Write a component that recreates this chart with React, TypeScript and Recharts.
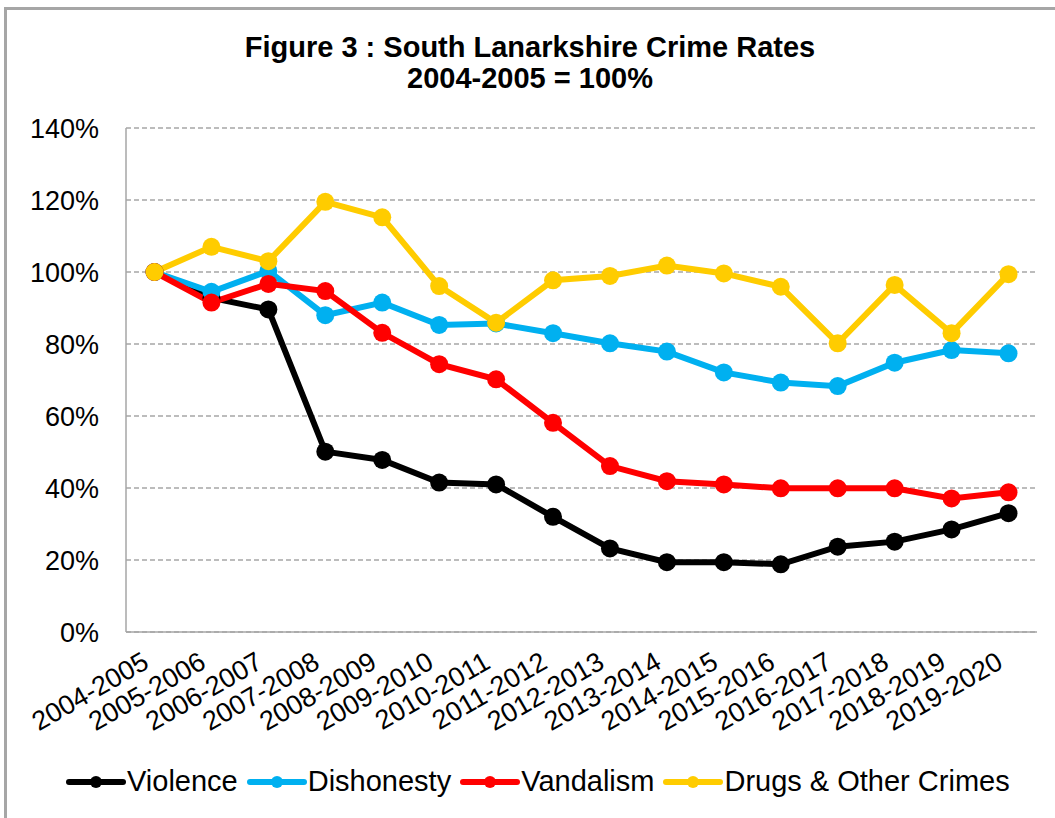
import React from 'react';
import { LineChart, Line, XAxis, YAxis, CartesianGrid, Legend } from 'recharts';

const categories = ['2004-2005', '2005-2006', '2006-2007', '2007-2008', '2008-2009', '2009-2010', '2010-2011', '2011-2012', '2012-2013', '2013-2014', '2014-2015', '2015-2016', '2016-2017', '2017-2018', '2018-2019', '2019-2020'];
const violence = [100, 92.8, 89.6, 50.1, 47.8, 41.5, 41.0, 32.0, 23.2, 19.4, 19.4, 18.8, 23.7, 25.1, 28.5, 33.0];
const dishonesty = [100, 94.5, 100.3, 88.0, 91.5, 85.3, 85.7, 83.0, 80.2, 77.9, 72.1, 69.3, 68.3, 74.8, 78.3, 77.4];
const vandalism = [100, 91.5, 96.7, 94.7, 83.1, 74.4, 70.2, 58.1, 46.1, 41.9, 41.0, 39.9, 39.9, 39.9, 37.1, 38.8];
const drugs = [100, 107.0, 103.0, 119.5, 115.2, 96.1, 85.9, 97.7, 98.9, 101.8, 99.6, 95.9, 80.2, 96.4, 83.0, 99.4];
const yTicks = [0, 20, 40, 60, 80, 100, 120, 140];

const series = [
  { key: 'violence', name: 'Violence', color: '#000000', values: violence },
  { key: 'dishonesty', name: 'Dishonesty', color: '#00B0F0', values: dishonesty },
  { key: 'vandalism', name: 'Vandalism', color: '#FF0000', values: vandalism },
  { key: 'drugs', name: 'Drugs & Other Crimes', color: '#FFCC00', values: drugs },
];

const data = categories.map((c, i) => {
  const row: any = { cat: c };
  series.forEach((s) => { row[s.key] = s.values[i]; });
  return row;
});

const FONT = '"Liberation Sans", Arial, sans-serif';

const XTick = (props: any) => {
  const { x, y, payload } = props;
  const ax = x - 4;
  const ay = y + 35;
  return (
    <text x={ax} y={ay} transform={`rotate(-30 ${ax} ${ay})`} textAnchor="end" fontSize={27} fontFamily={FONT} fill="#000">
      {payload.value}
    </text>
  );
};

const LegendContent = () => (
  <div style={{ display: 'flex', alignItems: 'center', fontFamily: FONT, fontSize: 29, color: '#000', whiteSpace: 'nowrap' }}>
    {series.map((s) => (
      <div key={s.key} style={{ display: 'flex', alignItems: 'center', marginRight: 9 }}>
        <svg width={60} height={20} style={{ marginRight: 1 }}>
          <line x1={3} y1={10} x2={57} y2={10} stroke={s.color} strokeWidth={6} strokeLinecap="round" />
          <circle cx={30} cy={10} r={6} fill={s.color} />
        </svg>
        <span>{s.name}</span>
      </div>
    ))}
  </div>
);

export default function App() {
  return (
    <div style={{ position: 'absolute', left: 0, top: 0, width: 1055, height: 818, background: '#fff' }}>
      <div style={{ position: 'absolute', left: 4, top: 7, width: 1051, height: 811, borderLeft: '3px solid #a6a6a6', borderTop: '3px solid #a6a6a6', boxSizing: 'border-box' }} />
      <div style={{ position: 'absolute', left: 0, top: 0, width: 1055 }}>
        <LineChart width={1055} height={818} data={data} margin={{ top: 128, right: 18, bottom: 66, left: 0 }}>
          <CartesianGrid horizontal={true} vertical={false} stroke="#a6a6a6" strokeWidth={1.5} strokeDasharray="5 3" />
          <XAxis dataKey="cat" type="category" interval={0} height={120} padding={{ left: 28.5, right: 28.5 }} tickSize={0} tickMargin={0} tickLine={false} axisLine={{ stroke: '#a6a6a6', strokeWidth: 1.5 }} tick={<XTick />} />
          <YAxis type="number" domain={[0, 140]} ticks={yTicks} width={126} tickSize={0} tickMargin={27} tickLine={false} axisLine={{ stroke: '#a6a6a6', strokeWidth: 1.5 }} tickFormatter={(v: number) => `${v}%`} tick={{ fontSize: 27, fontFamily: FONT, fill: '#000' }} interval={0} />
          {series.map((s) => (
            <Line key={s.key} type="linear" dataKey={s.key} name={s.name} stroke={s.color} strokeWidth={6} dot={{ r: 9, fill: s.color, stroke: 'none' }} activeDot={false} isAnimationActive={false} />
          ))}
          <Legend layout="horizontal" verticalAlign="middle" align="center" content={<LegendContent />} wrapperStyle={{ position: 'absolute', top: 765, left: 66, width: 1000 }} />
        </LineChart>
      </div>
      <div style={{ position: 'absolute', left: 0, top: 32, width: 1060, textAlign: 'center', fontFamily: FONT, fontWeight: 'bold', fontSize: 29, lineHeight: '31px', color: '#000' }}>
        <div>Figure 3 : South Lanarkshire Crime Rates</div>
        <div>2004-2005 = 100%</div>
      </div>
    </div>
  );
}
